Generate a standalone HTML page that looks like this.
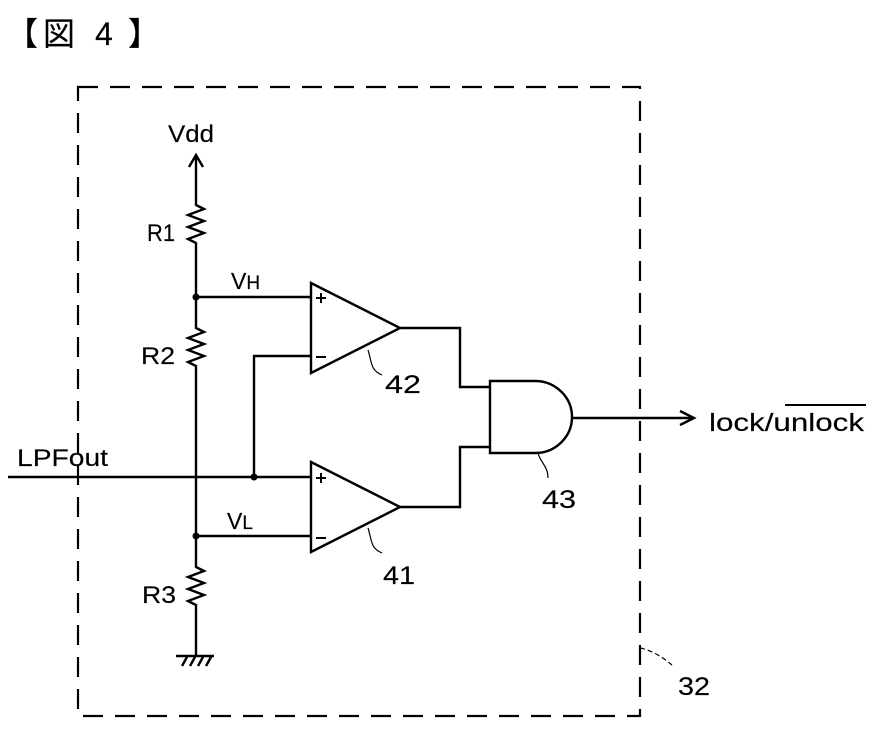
<!DOCTYPE html>
<html><head><meta charset="utf-8"><style>
html,body{margin:0;padding:0;background:#fff;width:874px;height:730px;overflow:hidden}
svg{display:block}
text{font-family:"Liberation Sans","Noto Sans CJK JP",sans-serif;fill:#000;stroke:#000;stroke-width:0.15}
</style></head><body>
<svg width="874" height="730" viewBox="0 0 874 730" xmlns="http://www.w3.org/2000/svg">
<text x="6" y="45" font-size="32">【</text>
<text x="43" y="45" font-size="32">図</text>
<text x="95" y="45" font-size="32">4</text>
<text x="128" y="45" font-size="32">】</text>
<rect x="78" y="87" width="562" height="629" fill="none" stroke="#000" stroke-width="2.2" stroke-dasharray="20,12"/>
<g stroke="#000" stroke-width="2.4" fill="none">
<path d="M196 157 V205 l8 4 l-16 6 l16 6 l-16 6 l16 6 l-16 6 l8 4 V328 l8 4 l-16 6 l16 6 l-16 6 l16 6 l-16 6 l8 4 V567 l8 4 l-16 6 l16 6 l-16 6 l16 6 l-16 6 l8 4 V656"/>
<path d="M189 167 L196 155 L203 167"/>
<path d="M176 656 H214 M182 666 L187 657 M190 666 L195 657 M198 666 L203 657 M206 666 L211 657"/>
<path d="M196 297 H311 M196 536 H311"/>
<path d="M8 477 H311"/>
<path d="M254 477 V356 H311"/>
<path d="M311 283 L400 328 L311 373 Z"/>
<path d="M311 462 L400 507 L311 552 Z"/>
<path d="M400 328 H460 V387 H490 M400 507 H460 V447 H490"/>
<path d="M490 381 H535 A37 36 0 0 1 535 453 H490 Z"/>
<path d="M573 418 H692 M680 411 L694 418 L680 425"/>
<path d="M368 350 C372 362 370 370 382 375" stroke-width="1.2"/>
<path d="M368 528 C372 540 370 548 382 553" stroke-width="1.2"/>
<path d="M538 453 C540 462 548 466 548 478" stroke-width="1.2"/>
<path d="M640 648 C650 650 660 655 672 665" stroke-width="1.2" stroke-dasharray="5,3"/>
<path d="M316 298 h10 M321 293 v10 M316 357 h10 M316 478 h10 M321 473 v10 M316 538 h10" stroke-width="2"/>
</g>
<circle cx="196" cy="297" r="3.5"/>
<circle cx="196" cy="536" r="3.5"/>
<circle cx="254" cy="477" r="3.5"/>
<text x="168" y="142" font-size="24" textLength="46" lengthAdjust="spacingAndGlyphs">Vdd</text>
<text x="147" y="241" font-size="24" textLength="28" lengthAdjust="spacingAndGlyphs">R1</text>
<text x="141" y="364" font-size="24" textLength="34" lengthAdjust="spacingAndGlyphs">R2</text>
<text x="142" y="603" font-size="24" textLength="34" lengthAdjust="spacingAndGlyphs">R3</text>
<text x="231" y="289" font-size="23">V<tspan font-size="19">H</tspan></text>
<text x="227" y="529" font-size="23">V<tspan font-size="19">L</tspan></text>
<text x="17" y="466" font-size="24" textLength="91" lengthAdjust="spacingAndGlyphs">LPFout</text>
<text x="385" y="393" font-size="25" textLength="36" lengthAdjust="spacingAndGlyphs">42</text>
<text x="383" y="584" font-size="25" textLength="32" lengthAdjust="spacingAndGlyphs">41</text>
<text x="542" y="508" font-size="25" textLength="34" lengthAdjust="spacingAndGlyphs">43</text>
<text x="678" y="695" font-size="25" textLength="32" lengthAdjust="spacingAndGlyphs">32</text>
<text x="709" y="431" font-size="25" textLength="155" lengthAdjust="spacingAndGlyphs">lock/unlock</text>
<path d="M785 405 H866" stroke="#000" stroke-width="2"/>
</svg>
</body></html>
